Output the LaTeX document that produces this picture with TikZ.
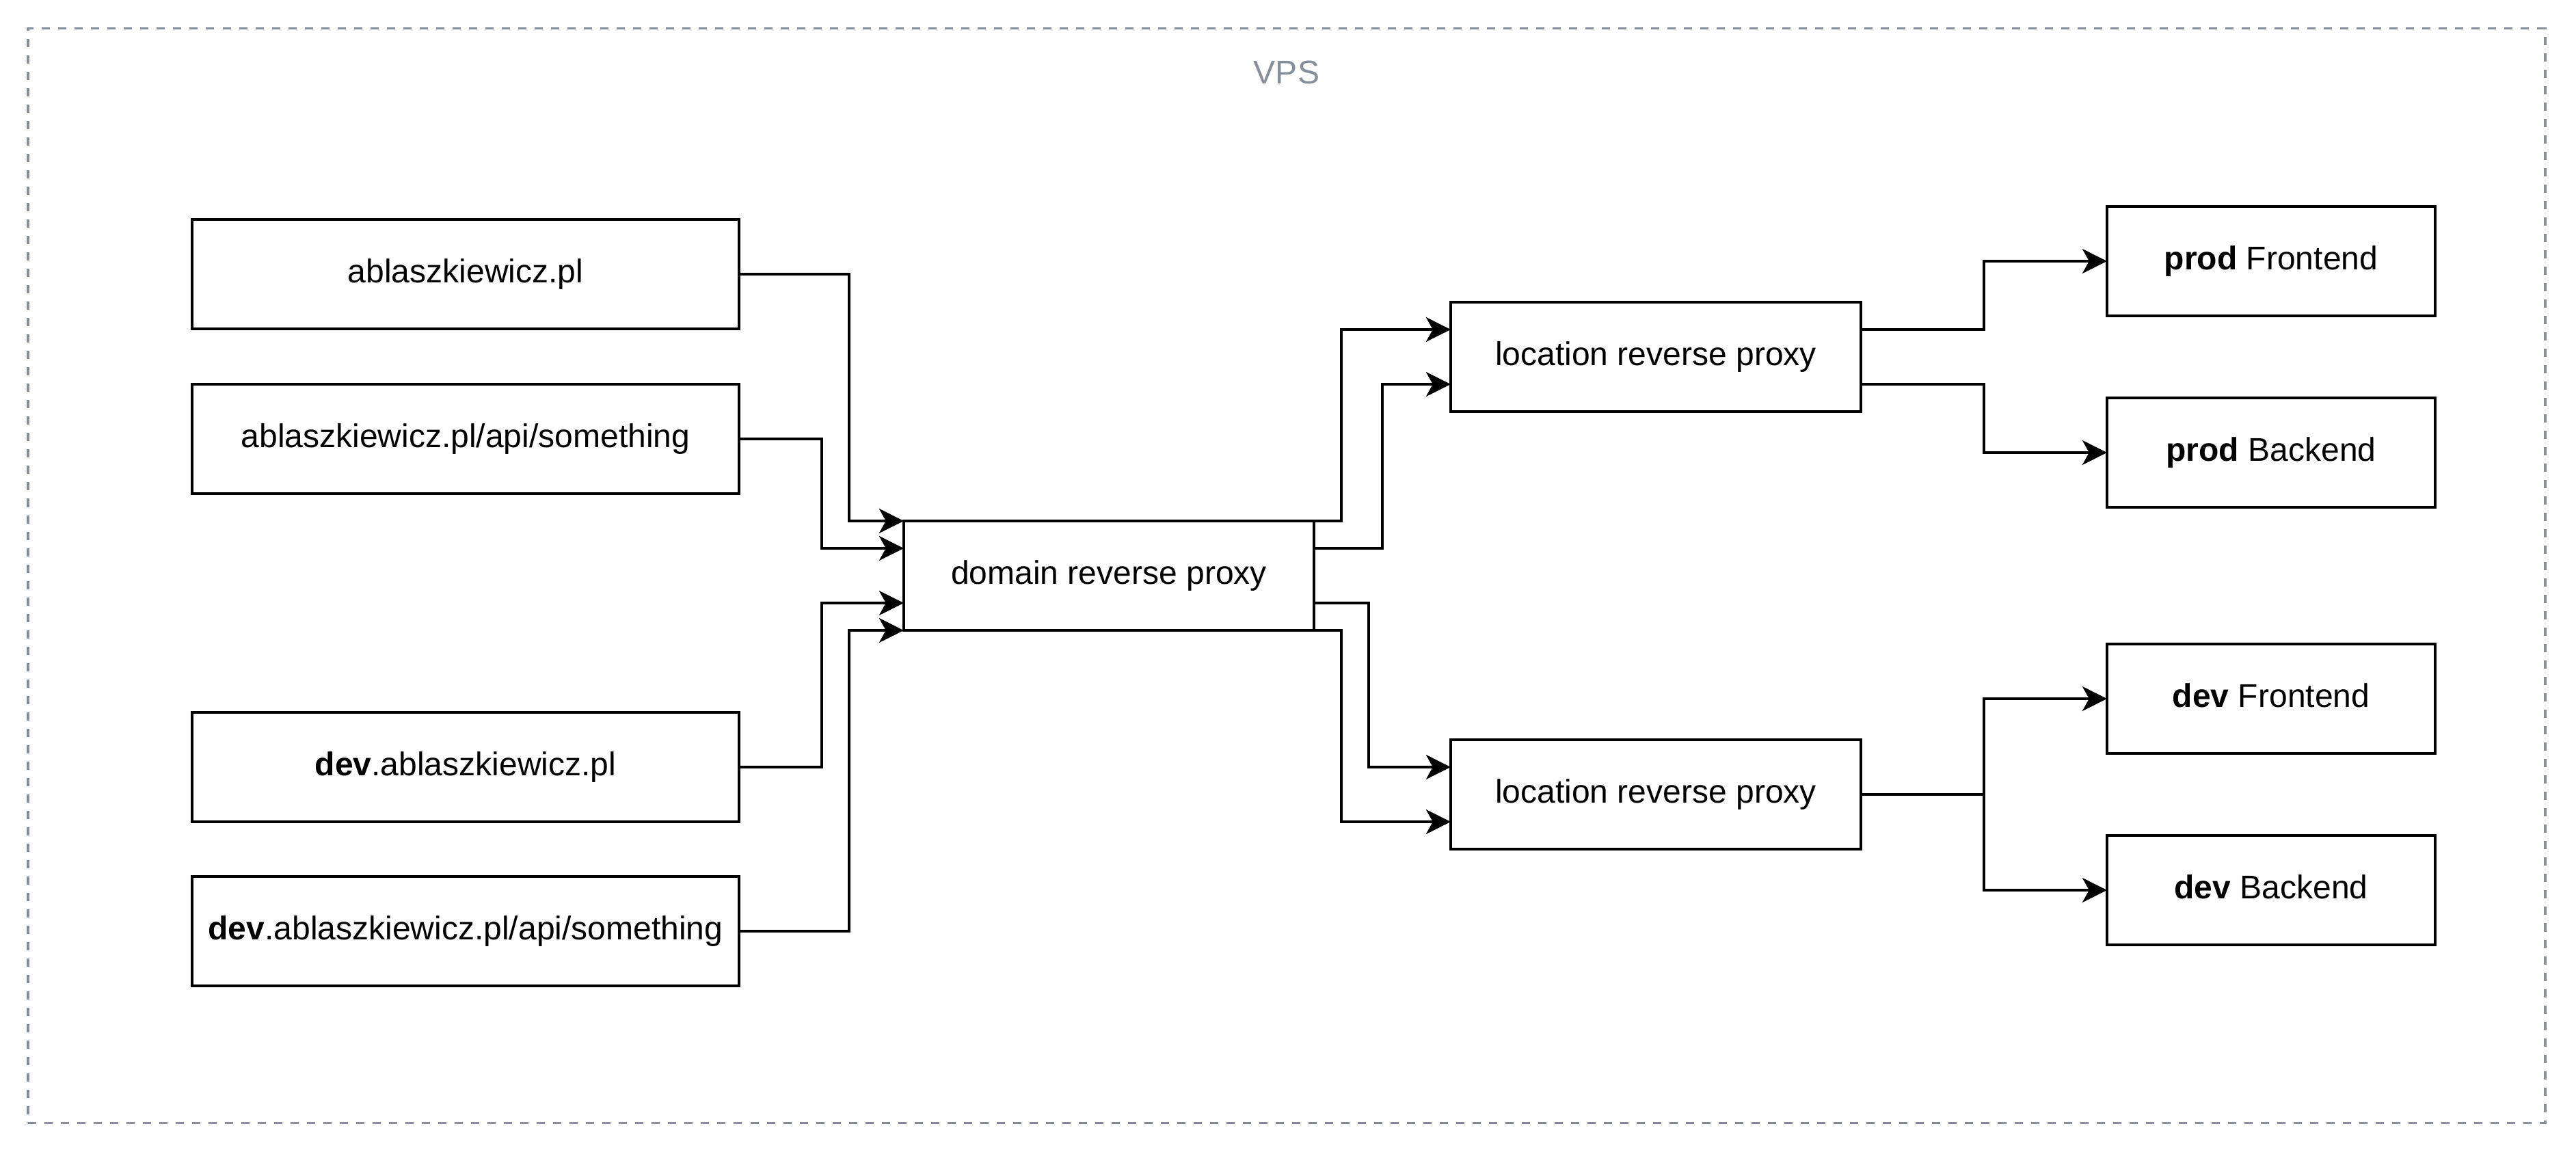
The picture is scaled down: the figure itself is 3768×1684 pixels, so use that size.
\documentclass[tikz,border=0pt]{standalone}
\usepackage{fontspec}
\setmainfont{Liberation Sans}
\usetikzlibrary{arrows.meta}
\definecolor{vpsgray}{RGB}{135,142,151}

\begin{document}
\begin{tikzpicture}[x=0.01cm,y=-0.01cm]
\tikzset{BoxStyle/.style={draw,line width=1pt,outer sep=0pt,inner sep=0pt,minimum height=1.6cm,
    text height=0.35cm,text depth=0.1cm,font=\fontsize{13.66pt}{16pt}\selectfont}}
\tikzset{EdgeStyle/.style={line width=1pt,-{Stealth[length=0.36cm,width=0.36cm,inset=0.1cm]}}}
\useasboundingbox (0,0) rectangle (3768,1684);
\node[draw=vpsgray,line width=1pt,dash pattern=on 0.12cm off 0.12cm,minimum width=36.8cm,minimum height=16cm] (vps) at (1882,842) {};
\node[text=vpsgray,font=\fontsize{13.66pt}{16pt}\selectfont] (vpslabel) at (1882,106) {VPS};
\node[BoxStyle,minimum width=8cm] (a1) at (681,401) {ablaszkiewicz.pl};
\node[BoxStyle,minimum width=8cm] (a2) at (681,642) {ablaszkiewicz.pl/api/something};
\node[BoxStyle,minimum width=8cm] (a3) at (681,1122) {\textbf{dev}.ablaszkiewicz.pl};
\node[BoxStyle,minimum width=8cm] (a4) at (681,1362) {\textbf{dev}.ablaszkiewicz.pl/api/something};
\node[BoxStyle,minimum width=6cm] (dom) at (1622,842) {domain reverse proxy};
\node[BoxStyle,minimum width=6cm] (lp1) at (2422,522) {location reverse proxy};
\node[BoxStyle,minimum width=6cm] (lp2) at (2422,1162) {location reverse proxy};
\node[BoxStyle,minimum width=4.8cm] (pf) at (3322,382) {\textbf{prod} Frontend};
\node[BoxStyle,minimum width=4.8cm] (pb) at (3322,662) {\textbf{prod} Backend};
\node[BoxStyle,minimum width=4.8cm] (df) at (3322,1022) {\textbf{dev} Frontend};
\node[BoxStyle,minimum width=4.8cm] (db) at (3322,1302) {\textbf{dev} Backend};
\draw[EdgeStyle] (a1.east) -| ([xshift=-0.8cm]dom.north west) -- (dom.north west);
\draw[EdgeStyle] (a2.east) -| ([xshift=-1.2cm,yshift=0.4cm]dom.west) -- ([yshift=0.4cm]dom.west);
\draw[EdgeStyle] (a3.east) -| ([xshift=-1.2cm,yshift=-0.4cm]dom.west) -- ([yshift=-0.4cm]dom.west);
\draw[EdgeStyle] (a4.east) -| ([xshift=-0.8cm]dom.south west) -- (dom.south west);
\draw[EdgeStyle] (dom.north east) -- ++(40,0) |- ([yshift=0.4cm]lp1.west);
\draw[EdgeStyle] ([yshift=0.4cm]dom.east) -- ++(100,0) |- ([yshift=-0.4cm]lp1.west);
\draw[EdgeStyle] ([yshift=-0.4cm]dom.east) -- ++(80,0) |- ([yshift=0.4cm]lp2.west);
\draw[EdgeStyle] (dom.south east) -- ++(40,0) |- ([yshift=-0.4cm]lp2.west);
\draw[EdgeStyle] ([yshift=0.4cm]lp1.east) -- ++(180,0) |- (pf.west);
\draw[EdgeStyle] ([yshift=-0.4cm]lp1.east) -- ++(180,0) |- (pb.west);
\draw[EdgeStyle] (lp2.east) -- ++(180,0) |- (df.west);
\draw[EdgeStyle] (lp2.east) -- ++(180,0) |- (db.west);
\end{tikzpicture}
\end{document}
